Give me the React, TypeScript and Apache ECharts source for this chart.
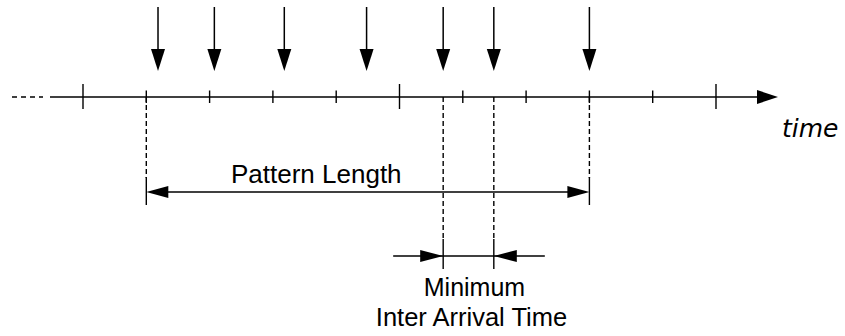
import React, { useEffect, useRef } from "react";
import * as echarts from "echarts";

// ---- data (time units: one tick = 1) ----
const tickTimes = [0, 1, 2, 3, 4, 5, 6, 7, 8, 9, 10];
const majorTickTimes = [0, 5, 10];
const arrivalTimes = [1.185, 2.075, 3.18, 4.48, 5.69, 6.49, 8.0];
const patternSpan = [1, 8];
const minInterArrivalSpan = [5.69, 6.49];
const axisTitle = "time";
const patternLabel = "Pattern Length";
const minLabelLines = ["Minimum", "Inter Arrival Time"];

// ---- layout (pixels) ----
const W = 845;
const H = 336;
const ORIGIN_PX = 83;
const UNIT_PX = 63.3;
const AXIS_Y = 97;
const BLACK = "#000";
const SANS = "'Liberation Sans', Arial, sans-serif";

const line = (x1: number, y1: number, x2: number, y2: number, extra: any = {}) => ({
  type: "line",
  shape: { x1, y1, x2, y2 },
  style: { stroke: BLACK, lineWidth: 1.5, ...extra },
});
const poly = (points: number[][]) => ({
  type: "polygon",
  shape: { points },
  style: { fill: BLACK },
});
const text = (t: string, x: number, y: number, font: string, align = "center") => ({
  type: "text",
  style: { text: t, x, y, font, fill: "#000", align, verticalAlign: "middle" },
});

export default function App() {
  const ref = useRef<HTMLDivElement>(null);

  useEffect(() => {
    document.body.style.margin = "0";
    if (!ref.current) return;
    const chart = echarts.init(ref.current, undefined, { renderer: "svg" });

    const px = (api: any, t: number) => api.coord([t, 0])[0];
    const py = (api: any, y: number) => api.coord([0, y])[1];
    const dash = { lineDash: [5, 3], lineWidth: 1.4 };

    const option: any = {
      animation: false,
      backgroundColor: "#fff",
      grid: { left: 0, right: 0, top: 0, bottom: 0 },
      xAxis: {
        type: "value",
        min: -ORIGIN_PX / UNIT_PX,
        max: (W - ORIGIN_PX) / UNIT_PX,
        show: false,
      },
      yAxis: { type: "value", min: 0, max: H, inverse: true, show: false },
      series: [
        // time axis line with arrow and title
        {
          type: "custom",
          clip: false,
          data: [[tickTimes[0], tickTimes[tickTimes.length - 1]]],
          renderItem: (_p: any, api: any) => {
            const x0 = px(api, api.value(0));
            const x1 = px(api, api.value(1));
            const y = py(api, AXIS_Y);
            const tip = x1 + 62;
            return {
              type: "group",
              children: [
                line(x0 - 71, y, x0 - 40, y, { lineDash: [5, 4], lineWidth: 1.4 }),
                line(x0 - 33, y, tip - 20, y),
                poly([[tip - 21, y - 7], [tip, y], [tip - 21, y + 7]]),
                {
                  type: "text",
                  style: {
                    text: axisTitle,
                    x: x1 + 66,
                    y: y + 31,
                    font: "italic 25px 'DejaVu Sans', Verdana, sans-serif",
                    fill: "#000",
                    align: "left",
                    verticalAlign: "middle",
                  },
                },
              ],
            };
          },
        },
        // ticks
        {
          type: "custom",
          clip: false,
          data: tickTimes.map((t) => [t, majorTickTimes.includes(t) ? 1 : 0]),
          renderItem: (_p: any, api: any) => {
            const x = px(api, api.value(0));
            const y = py(api, AXIS_Y);
            const major = api.value(1) === 1;
            return line(x, y - (major ? 13 : 6.5), x, y + (major ? 12 : 6), { lineWidth: 1.4 });
          },
        },
        // arrivals
        {
          type: "custom",
          clip: false,
          data: arrivalTimes.map((t) => [t]),
          renderItem: (_p: any, api: any) => {
            const x = px(api, api.value(0));
            return {
              type: "group",
              children: [
                line(x, 7, x, 52),
                poly([[x - 7, 49], [x + 7, 49], [x, 71]]),
              ],
            };
          },
        },
        // pattern length dimension
        {
          type: "custom",
          clip: false,
          data: [patternSpan],
          renderItem: (_p: any, api: any) => {
            const a = px(api, api.value(0));
            const b = px(api, api.value(1));
            const y = 192;
            const top = py(api, AXIS_Y);
            return {
              type: "group",
              children: [
                line(a, top, a, 178, dash),
                line(b, top, b, 178, dash),
                line(a, 177, a, 205, { lineWidth: 1.4 }),
                line(b, 177, b, 205, { lineWidth: 1.4 }),
                line(a + 18, y, b - 18, y),
                poly([[a, y], [a + 22, y - 6], [a + 22, y + 6]]),
                poly([[b, y], [b - 22, y - 6], [b - 22, y + 6]]),
                text(patternLabel, a + 170, 174, `26px ${SANS}`),
              ],
            };
          },
        },
        // minimum inter arrival time dimension
        {
          type: "custom",
          clip: false,
          data: [minInterArrivalSpan],
          renderItem: (_p: any, api: any) => {
            const a = px(api, api.value(0));
            const b = px(api, api.value(1));
            const y = 256;
            const top = py(api, AXIS_Y);
            const mid = (a + b) / 2;
            return {
              type: "group",
              children: [
                line(a, top, a, 240, dash),
                line(b, top, b, 240, dash),
                line(a, 239, a, 269, { lineWidth: 1.4 }),
                line(b, 239, b, 269, { lineWidth: 1.4 }),
                line(a - 50, y, b + 51, y, { lineWidth: 1.4 }),
                poly([[a, y], [a - 23, y - 6], [a - 23, y + 6]]),
                poly([[b, y], [b + 23, y - 6], [b + 23, y + 6]]),
                text(minLabelLines[0], mid + 6, 287, `25px ${SANS}`),
                text(minLabelLines[1], mid + 3, 317, `25.5px ${SANS}`),
              ],
            };
          },
        },
      ],
    };

    chart.setOption(option);
    return () => chart.dispose();
  }, []);

  return <div ref={ref} style={{ width: W, height: H }} />;
}
